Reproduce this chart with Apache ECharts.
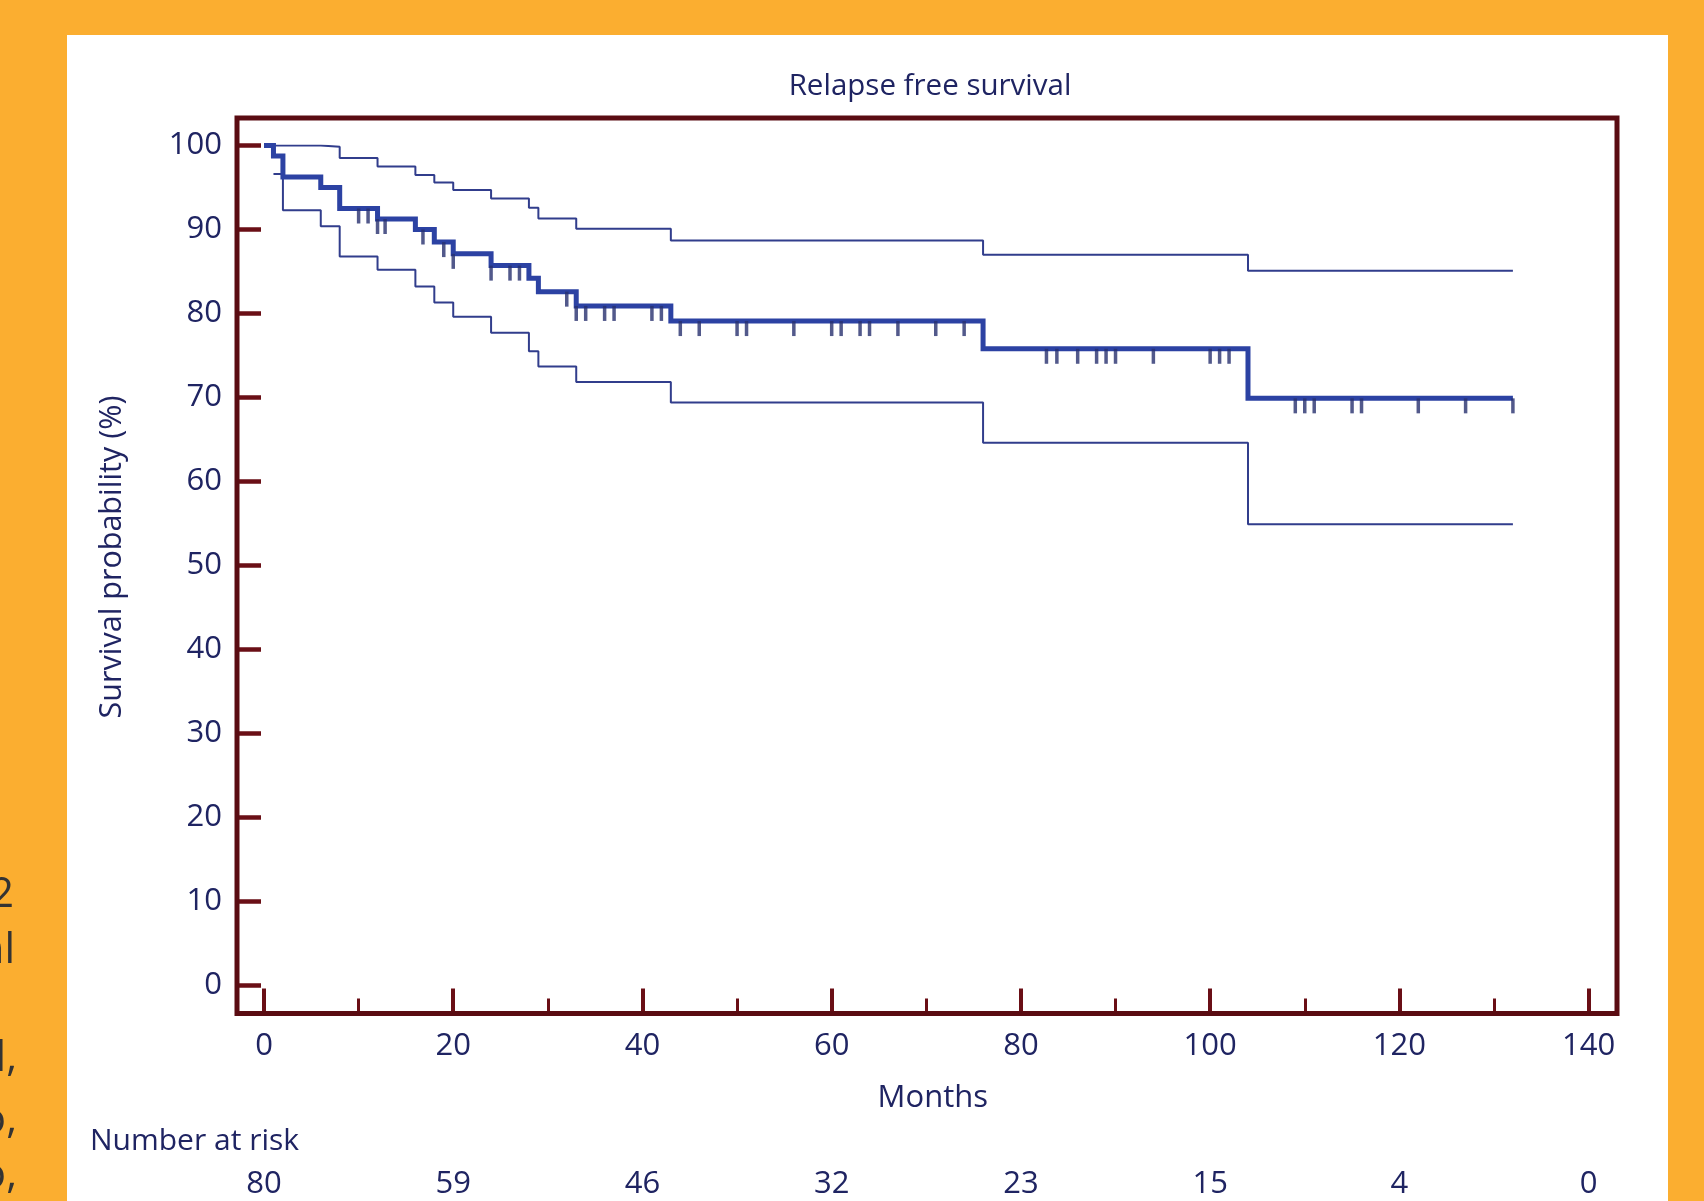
<!DOCTYPE html>
<html>
<head>
<meta charset="utf-8">
<script src="https://cdn.jsdelivr.net/npm/echarts@6/dist/echarts.min.js"></script>
<style>
html,body{margin:0;padding:0;background:#FBAE30;}
#chart{width:1704px;height:1201px;}
</style>
</head>
<body>
<div id="chart"></div>
<script>
// ---- data ----
const chartTitle = 'Relapse free survival';
const xAxisName = 'Months';
const yAxisName = 'Survival probability (%)';
const riskTitle = 'Number at risk';
const xTickValues = [0, 20, 40, 60, 80, 100, 120, 140];
const atRisk = [80, 59, 46, 32, 23, 15, 4, 0];

// Kaplan-Meier estimate (step function, value holds until next time)
const survMonths = [0, 1, 2, 6, 8, 12, 16, 18, 20, 24, 28, 29, 33, 43, 76, 104, 132];
const survValues = [100, 98.75, 96.25, 95.0, 92.5, 91.25, 90.0, 88.5, 87.1, 85.7, 84.2, 82.6, 80.9, 79.1, 75.8, 69.9, 69.9];

// upper confidence limit
const upperMonths = [0, 6, 8, 12, 16, 18, 20, 24, 28, 29, 33, 43, 76, 104, 132];
const upperValues = [100, 99.85, 98.5, 97.5, 96.5, 95.6, 94.7, 93.7, 92.6, 91.3, 90.1, 88.7, 87.0, 85.1, 85.1];

// lower confidence limit
const lowerMonths = [1, 2, 6, 8, 12, 16, 18, 20, 24, 28, 29, 33, 43, 76, 104, 132];
const lowerValues = [96.6, 92.3, 90.4, 86.8, 85.2, 83.2, 81.3, 79.6, 77.7, 75.5, 73.7, 71.85, 69.4, 64.6, 54.9, 54.9];

// censored observations
const censorMonths = [10, 11, 12, 12.8, 16.8, 19, 20, 24, 26, 27, 32, 33, 34, 36, 37, 41, 42,
  44, 46, 50, 51, 56, 60, 61, 63, 64, 67, 71, 74,
  82.7, 83.8, 86, 88, 89, 90, 94, 100, 101, 102,
  109, 110, 111, 115, 116, 122, 127, 132];
const censorValues = [92.5, 92.5, 91.25, 91.25, 90.0, 88.5, 87.1, 85.7, 85.7, 85.7, 82.6, 80.9, 80.9, 80.9, 80.9, 80.9, 80.9,
  79.1, 79.1, 79.1, 79.1, 79.1, 79.1, 79.1, 79.1, 79.1, 79.1, 79.1, 79.1,
  75.8, 75.8, 75.8, 75.8, 75.8, 75.8, 75.8, 75.8, 75.8, 75.8,
  69.9, 69.9, 69.9, 69.9, 69.9, 69.9, 69.9, 69.9];

// left-edge clipped text fragments of the surrounding page
const sideFragments = ['2', 'al', 'al,', 'o,', 'o,'];

// ---- chart ----
const zip = (a, b) => a.map((v, i) => [v, b[i]]);
const TEXT = '#1f2462';
const FRAME = '#5a0c12';
const TICK = '#6a0f16';
const FONT = 'Open Sans';

const chart = echarts.init(document.getElementById('chart'), null, {renderer: 'canvas'});

const sideX = [14, 15, 17, 17, 17];
const sideY = [895, 951, 1059, 1121, 1176];

const option = {
  animation: false,
  textStyle: {fontFamily: FONT},
  grid: [
    {left: 237, right: 87, top: 118, bottom: 187.5, show: true, borderColor: FRAME, borderWidth: 5, backgroundColor: 'transparent', z: 5},
    {left: 264, right: 115.4, top: 145.5, bottom: 215.5}
  ],
  xAxis: [
    {gridIndex: 0, type: 'value', min: 0, max: 1, show: false},
    {
      gridIndex: 1, type: 'value', min: 0, max: 140, interval: 20, position: 'bottom', offset: 28,
      axisLine: {show: false, onZero: false},
      axisTick: {show: true, inside: true, length: 25, lineStyle: {color: TICK, width: 4}},
      minorTick: {show: true, splitNumber: 2, length: 15, lineStyle: {color: TICK, width: 3}},
      splitLine: {show: false},
      axisLabel: {color: TEXT, fontSize: 31, margin: 17, fontFamily: FONT},
      name: xAxisName, nameLocation: 'middle', nameGap: 69,
      nameTextStyle: {color: TEXT, fontSize: 31, fontFamily: FONT, padding: [0, 0, 0, 13]}
    },
    {
      gridIndex: 1, type: 'value', min: 0, max: 140, interval: 20, position: 'bottom', offset: 170,
      axisLine: {show: false, onZero: false}, axisTick: {show: false}, splitLine: {show: false},
      axisLabel: {color: TEXT, fontSize: 31, margin: 13, fontFamily: FONT,
        formatter: v => { const i = xTickValues.indexOf(v); return i >= 0 ? String(atRisk[i]) : ''; }}
    }
  ],
  yAxis: [
    {gridIndex: 0, type: 'value', min: 0, max: 1, show: false},
    {
      gridIndex: 1, type: 'value', min: 0, max: 100, interval: 10, position: 'left', offset: 27,
      axisLine: {show: false, onZero: false},
      axisTick: {show: true, inside: true, length: 24, lineStyle: {color: TICK, width: 4.5}},
      splitLine: {show: false},
      axisLabel: {color: TEXT, fontSize: 31, margin: 15, fontFamily: FONT}
    }
  ],
  graphic: [
    {type: 'rect', z: -100, shape: {x: 67, y: 35, width: 1601, height: 1180}, style: {fill: '#ffffff'}},
    {type: 'text', x: 930, y: 87, style: {text: chartTitle, fill: TEXT, font: '29.5px "Open Sans"', textAlign: 'center', textVerticalAlign: 'middle'}},
    {type: 'text', x: 112, y: 557, rotation: Math.PI / 2, style: {text: yAxisName, fill: TEXT, font: '30.5px "Open Sans"', textAlign: 'center', textVerticalAlign: 'middle'}},
    {type: 'text', x: 90, y: 1141, style: {text: riskTitle, fill: TEXT, font: '30px "Open Sans"', textAlign: 'left', textVerticalAlign: 'middle'}}
  ].concat(sideFragments.map((t, i) => ({
    type: 'text', x: sideX[i], y: sideY[i], style: {text: t, fill: '#333333', font: '42px "Open Sans"', textAlign: 'right', textVerticalAlign: 'middle'}
  }))),
  series: [
    {
      name: 'Upper CI', type: 'line', xAxisIndex: 1, yAxisIndex: 1, step: 'end', showSymbol: false,
      data: zip(upperMonths, upperValues), lineStyle: {color: '#313d8c', width: 2}, z: 2
    },
    {
      name: 'Lower CI', type: 'line', xAxisIndex: 1, yAxisIndex: 1, step: 'end', showSymbol: false,
      data: zip(lowerMonths, lowerValues), lineStyle: {color: '#313d8c', width: 2}, z: 2
    },
    {
      name: 'Survival', type: 'line', xAxisIndex: 1, yAxisIndex: 1, step: 'end', showSymbol: false,
      data: zip(survMonths, survValues), lineStyle: {color: '#2c42a3', width: 5, join: 'miter'}, z: 3
    },
    {
      name: 'Censored', type: 'scatter', xAxisIndex: 1, yAxisIndex: 1,
      data: zip(censorMonths, censorValues),
      symbol: 'rect', symbolSize: [3.5, 15], symbolOffset: [0, 7.5],
      itemStyle: {color: '#27306e'}, z: 4
    }
  ]
};
chart.setOption(option);
</script>
</body>
</html>
